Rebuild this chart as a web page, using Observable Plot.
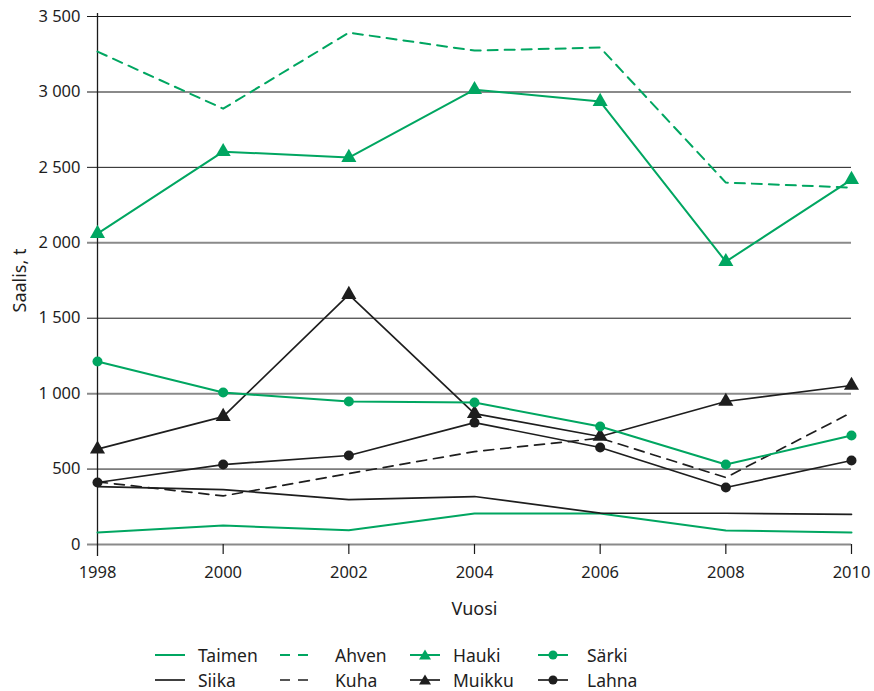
<!DOCTYPE html>
<html><head><meta charset="utf-8">
<script src="https://cdn.jsdelivr.net/npm/d3@7"></script>
<script src="https://cdn.jsdelivr.net/npm/@observablehq/plot@0.6"></script>
<style>
body{margin:0;background:#fff;font-family:"Noto Sans",sans-serif;}
#chart svg{display:block;}
#legend{position:relative;height:66px;width:874px;}
.item{position:absolute;display:flex;align-items:center;font-size:17.5px;color:#1e1e1e;height:24px;}
</style></head><body>
<div id="chart"></div>
<div id="legend"></div>
<script>
const years = [1998, 2000, 2002, 2004, 2006, 2008, 2010];
const taimen = [80, 126, 95, 205, 205, 93, 80];
const siika  = [384, 364, 298, 318, 208, 207, 200];
const ahven  = [3267, 2889, 3393, 3274, 3294, 2399, 2366];
const kuha   = [415, 322, 470, 616, 705, 444, 875];
const hauki  = [2061, 2604, 2565, 3015, 2936, 1875, 2419];
const muikku = [632, 848, 1657, 868, 716, 948, 1054];
const sarki  = [1213, 1007, 948, 941, 782, 530, 722];
const lahna  = [411, 530, 590, 808, 643, 378, 557];
const yTicks = [0, 500, 1000, 1500, 2000, 2500, 3000, 3500];
const majorTicks = [0, 1000, 2000, 3000];
const minorTicks = [500, 1500, 2500, 3500];

const GREEN = "#00a661";
const BLACK = "#1e1e1e";
const series = [
  {name: "Taimen", values: taimen, color: GREEN, dash: null, symbol: null, w: 2},
  {name: "Siika", values: siika, color: BLACK, dash: null, symbol: null, w: 1.7},
  {name: "Ahven", values: ahven, color: GREEN, dash: "10,7", symbol: null, w: 2},
  {name: "Kuha", values: kuha, color: BLACK, dash: "10,7", symbol: null, w: 1.7},
  {name: "Hauki", values: hauki, color: GREEN, dash: null, symbol: "triangle", w: 2},
  {name: "Muikku", values: muikku, color: BLACK, dash: null, symbol: "triangle", w: 1.7},
  {name: "Särki", values: sarki, color: GREEN, dash: null, symbol: "circle", w: 2},
  {name: "Lahna", values: lahna, color: BLACK, dash: null, symbol: "circle", w: 1.7}
];
const tableOf = s => years.map((yr, i) => ({year: yr, value: s.values[i]}));

const fmt = d3.formatLocale({decimal: ",", thousands: "\u00a0", grouping: [3], currency: ["", "€"]}).format(",d");

const marks = [
  Plot.ruleY(minorTicks, {stroke: "#1a1a1a", strokeWidth: 1, insetLeft: -10}),
  Plot.ruleY(majorTicks, {stroke: "#8a8a8a", strokeWidth: 2, insetLeft: -10}),
  Plot.ruleX([1998], {stroke: "#1a1a1a", strokeWidth: 1.3, insetTop: -3, insetBottom: -12}),
  Plot.ruleX(years.slice(1), {y1: 0, y2: 0, stroke: "#1a1a1a", strokeWidth: 1.2, insetBottom: -10}),
  Plot.axisY({ticks: yTicks, tickSize: 0, tickPadding: 17, tickFormat: fmt, fontSize: 16.5, fill: "#1e1e1e", label: null}),
  Plot.axisY({ticks: [], tickSize: 0, fontSize: 18, fill: "#1e1e1e", label: "Saalis, t", labelAnchor: "center", labelOffset: 84, labelArrow: false}),
  Plot.axisX({ticks: years, tickSize: 0, tickPadding: 22, tickFormat: d => String(d), fontSize: 16.5, fill: "#1e1e1e", label: null}),
  Plot.axisX({ticks: [], tickSize: 0, fontSize: 18, fill: "#1e1e1e", label: "Vuosi", labelAnchor: "center", labelOffset: 70, labelArrow: false})
];
for (const s of series) {
  marks.push(Plot.line(tableOf(s), {x: "year", y: "value", stroke: s.color, strokeWidth: s.w, strokeDasharray: s.dash}));
  if (s.symbol) {
    marks.push(Plot.dot(tableOf(s), {x: "year", y: "value", fill: s.color, stroke: "none", symbol: s.symbol, r: s.symbol === "triangle" ? 5.6 : 5}));
  }
}

const chart = Plot.plot({
  width: 874, height: 625,
  marginLeft: 97, marginRight: 23, marginTop: 16, marginBottom: 81,
  style: {fontFamily: "Noto Sans, sans-serif", fontSize: "16px", color: "#1e1e1e", background: "#fff"},
  x: {type: "linear", domain: [1998, 2010], axis: null},
  y: {type: "linear", domain: [0, 3500], axis: null},
  marks
});
document.getElementById("chart").append(chart);

const legend = document.getElementById("legend");
const colX = [155, 280, 410, 538];
const labX = [198, 335, 453, 587];
const rowY = [18, 43];
series.forEach((s, i) => {
  const col = Math.floor(i / 2), row = i % 2;
  const div = document.createElement("div");
  div.className = "item";
  div.style.left = colX[col] + "px";
  div.style.top = rowY[row] + "px";
  const ns = "http://www.w3.org/2000/svg";
  const svg = document.createElementNS(ns, "svg");
  svg.setAttribute("width", 30); svg.setAttribute("height", 14);
  svg.style.marginRight = (labX[col] - colX[col] - 30) + "px";
  const ln = document.createElementNS(ns, "line");
  ln.setAttribute("x1", 0); ln.setAttribute("x2", 30); ln.setAttribute("y1", 7); ln.setAttribute("y2", 7);
  ln.setAttribute("stroke", s.color); ln.setAttribute("stroke-width", s.w);
  if (s.dash) ln.setAttribute("stroke-dasharray", "10,8");
  svg.append(ln);
  if (s.symbol === "triangle") {
    const p = document.createElementNS(ns, "path");
    p.setAttribute("d", "M15,1.5L21,11.5L9,11.5Z"); p.setAttribute("fill", s.color);
    svg.append(p);
  } else if (s.symbol === "circle") {
    const c = document.createElementNS(ns, "circle");
    c.setAttribute("cx", 15); c.setAttribute("cy", 7); c.setAttribute("r", 4.5); c.setAttribute("fill", s.color);
    svg.append(c);
  }
  div.append(svg);
  const t = document.createElement("span");
  t.textContent = s.name;
  div.append(t);
  legend.append(div);
});
</script>
</body></html>
